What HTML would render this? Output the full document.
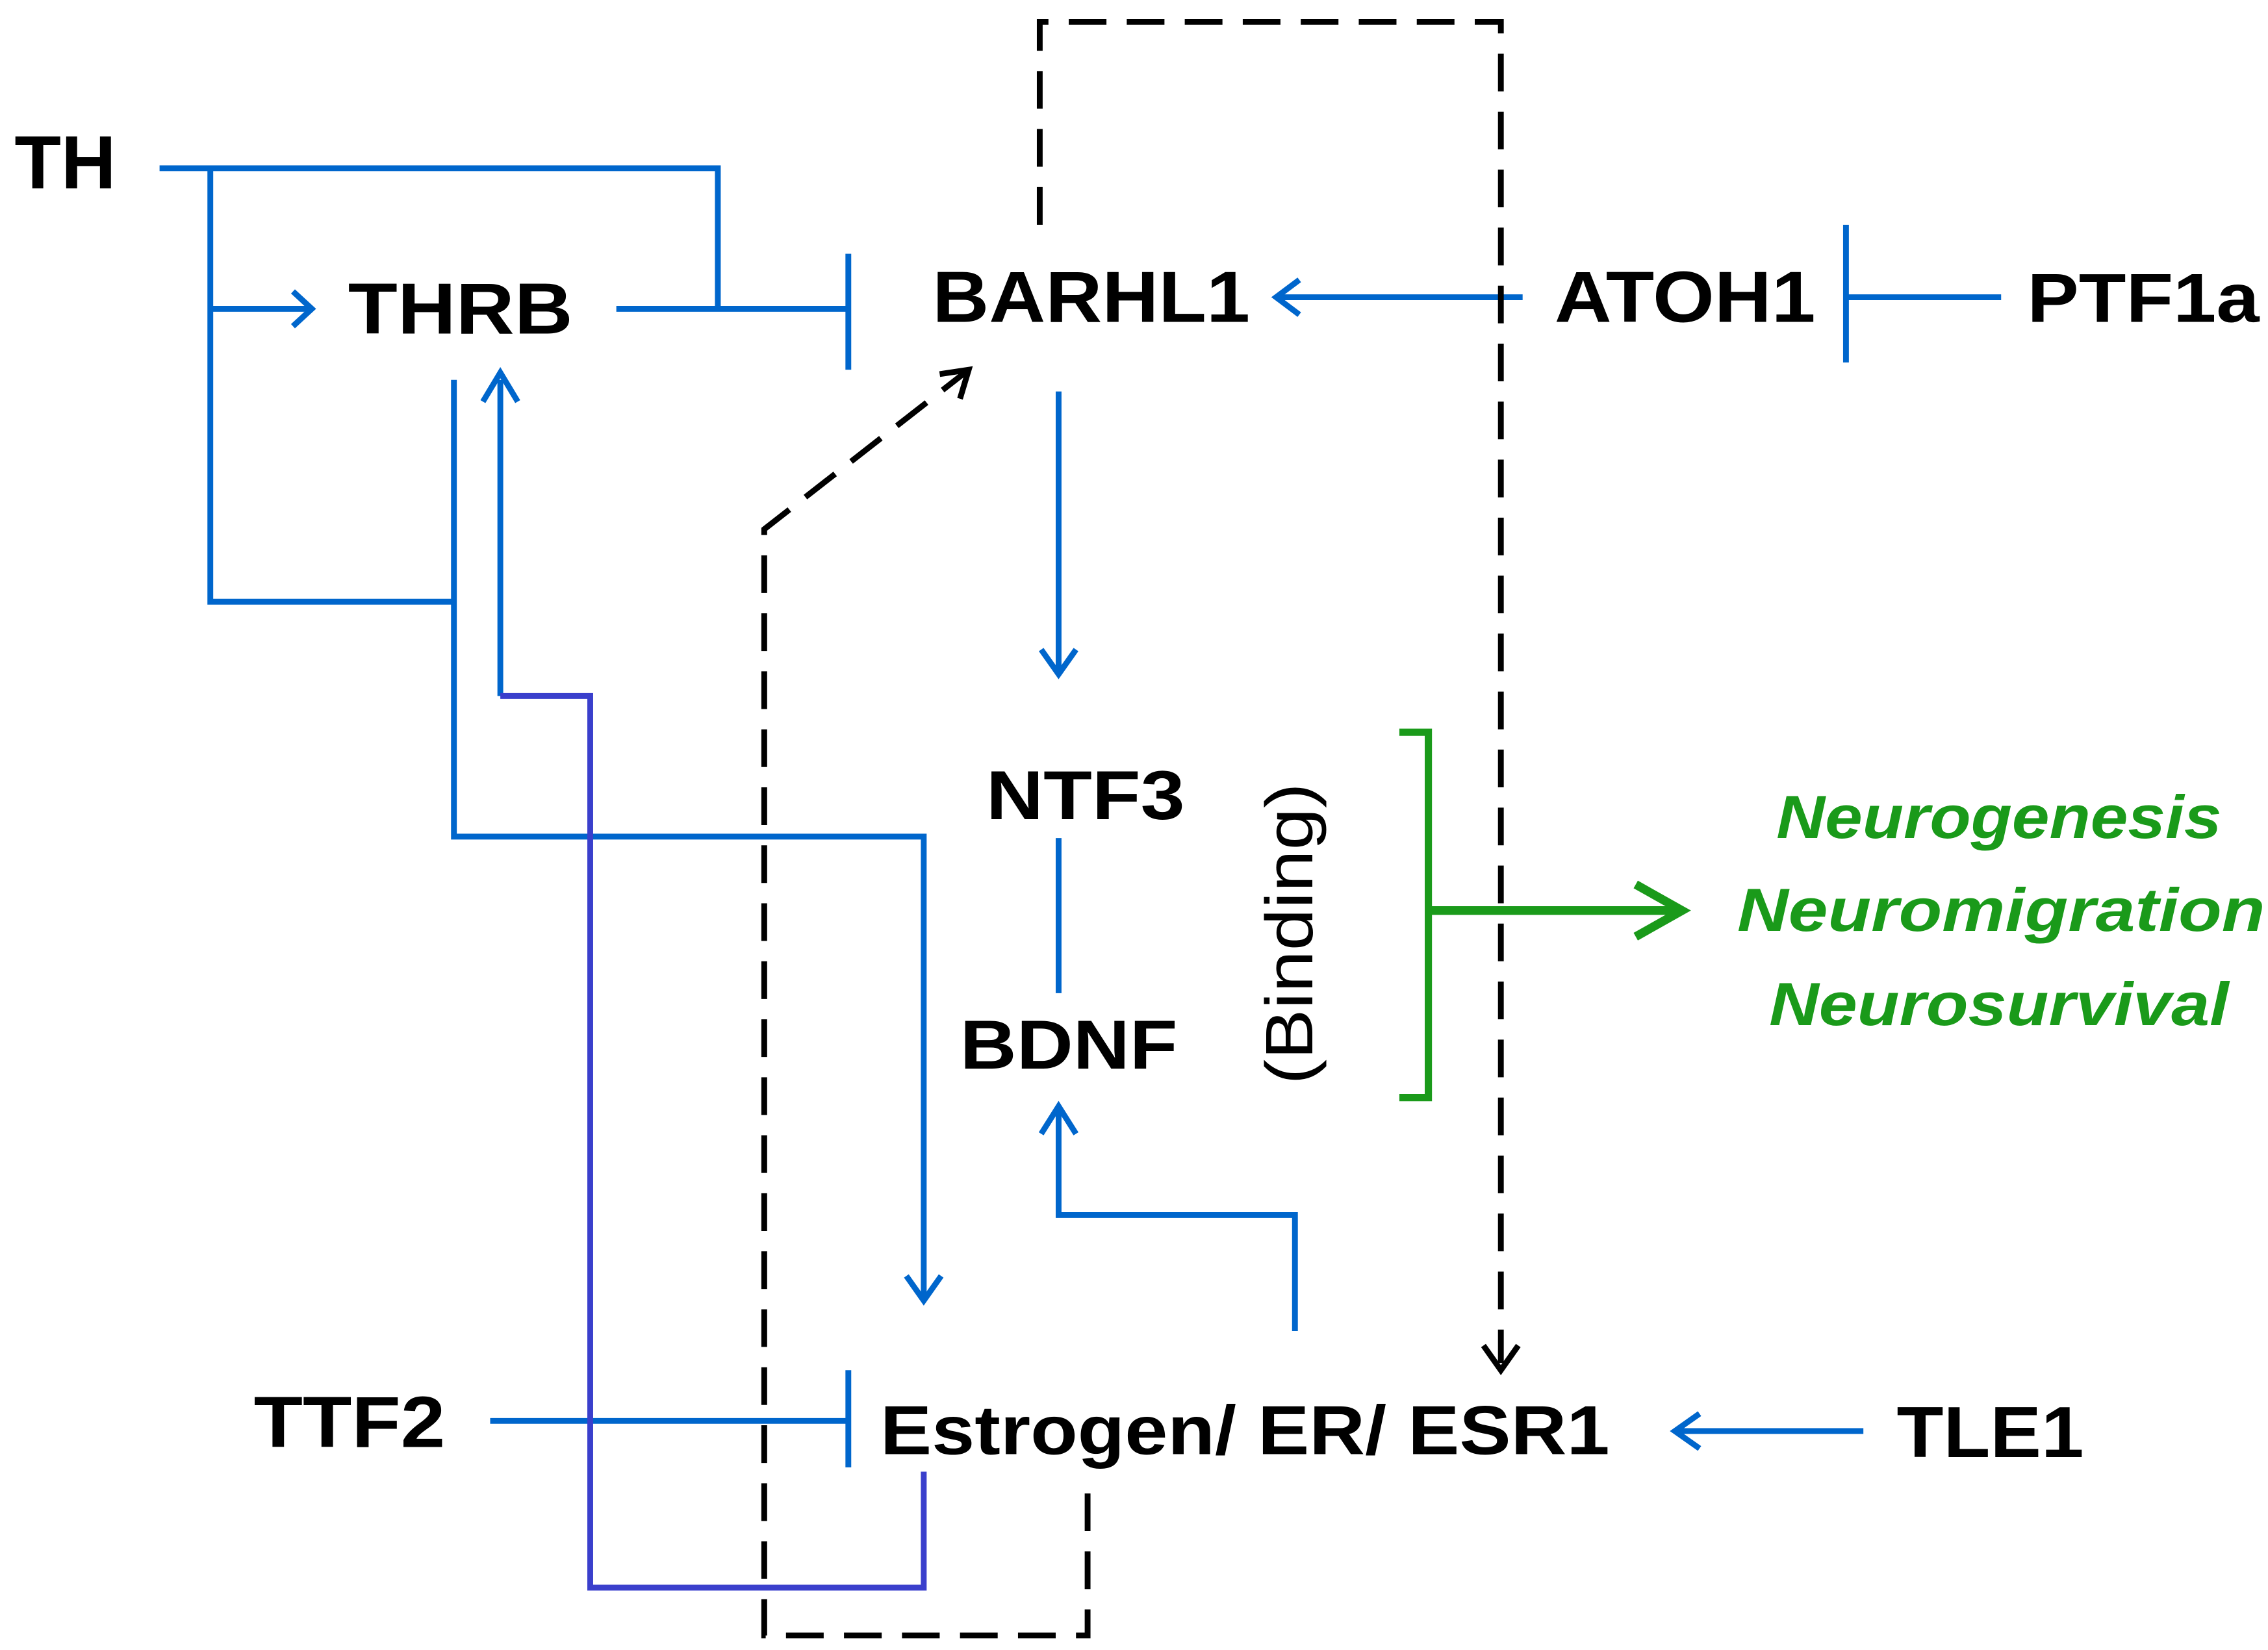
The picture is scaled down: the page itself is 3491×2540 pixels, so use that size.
<!DOCTYPE html>
<html><head><meta charset="utf-8"><style>
html,body{margin:0;padding:0;background:#fff}
svg{display:block}
text{font-family:"Liberation Sans",sans-serif;font-weight:bold;fill:#000}
</style></head><body>
<svg width="3491" height="2540" viewBox="0 0 1564 1138" xmlns="http://www.w3.org/2000/svg">
<g fill="none" stroke="#0066cc" stroke-width="4">
<path d="M110,116 H495 V213"/>
<path d="M145,116 V415 H313"/>
<path d="M145,213 H213"/>
<path d="M202,201 L215,213 L202,225" stroke-width="4"/>
<path d="M425,213 H585"/>
<path d="M585,175 V255"/>
<path d="M1050,205 H882"/>
<path d="M896,193 L880,205 L896,217"/>
<path d="M1273,155 V250"/>
<path d="M1273,205 H1380"/>
<path d="M730,270 V463"/>
<path d="M718,448 L730,465 L742,448"/>
<path d="M730,578 V685"/>
<path d="M313,262 V577 H637 V897"/>
<path d="M625,880 L637,897 L649,880"/>
<path d="M345,262 V480"/>
<path d="M333,277 L345,257 L357,277"/>
<path d="M893,918 V838 H730 V765"/>
<path d="M718,782 L730,763 L742,782"/>
<path d="M338,980 H585"/>
<path d="M585,945 V1012"/>
<path d="M1285,987 H1157"/>
<path d="M1172,975 L1155,987 L1172,999"/>
</g>
<path d="M345,480 H407 V1095 H637 V1015" fill="none" stroke="#3a3fcc" stroke-width="4"/>
<g fill="none" stroke="#000" stroke-width="4" stroke-dasharray="26,14">
<path d="M717,155 V15 H1035 V940"/>
<path d="M750,1030 V1128 H527 V365 L668,255"/>
</g>
<path d="M1023,928 L1035,945 L1047,928" fill="none" stroke="#000" stroke-width="4"/>
<path d="M648,258 L668,255 L662,275" fill="none" stroke="#000" stroke-width="4"/>
<g fill="none" stroke="#1a9a1a" stroke-width="5">
<path d="M965,505 H985 V757 H965"/>
<path d="M985,628 H1158" stroke-width="6"/>
<path d="M1128,610 L1160,628 L1128,646" stroke-width="6"/>
</g>
<text x="10" y="130" font-size="52" textLength="70" lengthAdjust="spacingAndGlyphs">TH</text>
<text x="240" y="230" font-size="50" textLength="155" lengthAdjust="spacingAndGlyphs">THRB</text>
<text x="643" y="222" font-size="50" textLength="219" lengthAdjust="spacingAndGlyphs">BARHL1</text>
<text x="1072" y="222" font-size="50" textLength="180" lengthAdjust="spacingAndGlyphs">ATOH1</text>
<text x="1398" y="222" font-size="48" textLength="160" lengthAdjust="spacingAndGlyphs">PTF1a</text>
<text x="680" y="565" font-size="48" textLength="137" lengthAdjust="spacingAndGlyphs">NTF3</text>
<text x="662" y="737" font-size="48" textLength="150" lengthAdjust="spacingAndGlyphs">BDNF</text>
<text x="175" y="998" font-size="50" textLength="132" lengthAdjust="spacingAndGlyphs">TTF2</text>
<text x="607" y="1003" font-size="48" textLength="503" lengthAdjust="spacingAndGlyphs">Estrogen/ ER/ ESR1</text>
<text x="1308" y="1005" font-size="50" textLength="129" lengthAdjust="spacingAndGlyphs">TLE1</text>
<text transform="translate(905,644) rotate(-90)" x="-104" font-size="46" textLength="208" lengthAdjust="spacingAndGlyphs" style="font-weight:normal">(Binding)</text>
<g font-size="42" font-style="italic">
<text x="1225" y="578" textLength="307" lengthAdjust="spacingAndGlyphs" style="fill:#1a9a1a">Neurogenesis</text>
<text x="1198" y="642" textLength="364" lengthAdjust="spacingAndGlyphs" style="fill:#1a9a1a">Neuromigration</text>
<text x="1220" y="707" textLength="317" lengthAdjust="spacingAndGlyphs" style="fill:#1a9a1a">Neurosurvival</text>
</g>
</svg>
</body></html>
